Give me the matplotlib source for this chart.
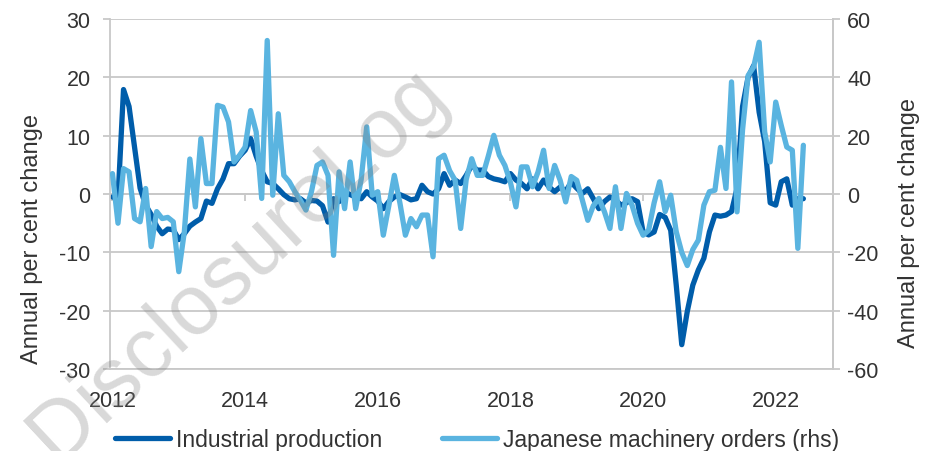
import numpy as np
import matplotlib.pyplot as plt

plt.rcParams['font.family'] = ['Liberation Sans', 'DejaVu Sans']
plt.rcParams['axes.unicode_minus'] = False

# monthly, Jan 2012 onwards
industrial_production = [
    -0.5, -0.8, 17.9, 15.0, 8.0, 1.0, -1.9, -3.5, -5.5, -6.8, -6.0, -6.1,
    -7.8, -6.8, -5.5, -4.8, -4.2, -1.2, -1.6, 0.9, 2.6, 5.2, 5.2, 6.5,
    7.5, 9.5, 6.5, 4.0, 2.1, 1.8, 0.9, -0.1, -0.8, -1.0, -0.8, -1.5,
    -1.1, -1.2, -2.0, -4.8, -0.8, -1.3, 0.4, -0.1, -0.5, -0.8, 0.4, -0.5,
    -1.2, -2.5, -1.3, -0.5, -0.1, -0.5, -1.0, -0.8, 1.5, 0.4, 0.0, 0.9,
    3.5, 1.5, 2.4, 1.8, 3.2, 4.9, 4.1, 4.1, 3.0, 2.6, 2.4, 2.1,
    3.5, 2.4, 1.8, 0.9, 2.6, 0.9, 2.4, 1.2, 0.4, 1.2, 0.5, 2.0,
    1.0, 0.1, 0.9, -0.8, -2.5, -1.3, -0.5, -1.0, -1.9, -1.5, -0.8, -1.3,
    -6.5, -7.0, -6.5, -3.5, -4.0, -6.2, -15.6, -25.8, -20.1, -15.6, -13.0, -11.0,
    -6.5, -3.6, -3.8, -3.6, -3.0, 1.0, 15.0, 20.0, 22.0, 14.0, 9.0, -1.5,
    -1.9, 2.1, 2.6, -1.9, -0.8, -0.8,
]
machinery_orders = [
    7.0, -10.0, 8.7, 7.6, -8.4, -9.5, 1.9, -18.0, -6.0, -8.4, -8.0, -9.5,
    -26.6, -13.0, 12.0, -4.4, 19.0, 3.6, 3.6, 30.4, 29.8, 24.7, 11.0, 13.3,
    16.1, 28.6, 21.3, -1.5, 52.6, -0.4, 27.5, 6.4, 4.2, 0.8, -2.1, -5.5,
    0.8, 9.8, 11.0, 6.4, -21.0, 7.6, -5.0, 11.0, -5.0, 5.0, 23.0, -0.4,
    0.8, -14.1, -4.0, 6.4, -3.0, -14.1, -8.4, -11.2, -7.2, -7.2, -21.5, 12.1,
    13.3, 8.0, 4.7, -11.8, 5.0, 12.1, 6.4, 6.4, 13.0, 20.1, 13.3, 9.8,
    4.0, -4.4, 9.3, 9.3, 2.5, 7.6, 15.0, 1.9, 9.8, 4.7, -2.7, 6.0,
    4.7, -2.0, -9.0, -4.0, -1.5, -6.0, -11.8, 2.5, -11.8, 0.2, -3.8, -10.0,
    -14.1, -12.4, -3.0, 4.2, -6.0, -0.4, -12.9, -20.0, -24.5, -19.0, -15.8, -3.8,
    0.8, 1.3, 16.0, 1.9, 38.4, -6.1, 22.0, 40.6, 43.5, 52.0, 21.3, 11.0,
    31.5, 23.5, 16.1, 15.0, -18.6, 16.7,
]
tick_years = [2012, 2014, 2016, 2018, 2020, 2022]

months = np.arange(len(industrial_production))
tick_pos = [(y - 2012) * 12 for y in tick_years]

dark = '#005DAA'
light = '#5AB4E0'
grid = '#C8C8C8'
txt = '#333333'

fig = plt.figure(figsize=(9.32, 4.52), dpi=100)
ax = fig.add_axes([0.118, 0.181, 0.776, 0.775])
ax2 = ax.twinx()

l1, = ax.plot(months, industrial_production, color=dark, lw=3.8,
              solid_joinstyle='round', solid_capstyle='round',
              label='Industrial production')
l2, = ax2.plot(months, machinery_orders, color=light, lw=3.8,
               solid_joinstyle='round', solid_capstyle='round',
               label='Japanese machinery orders (rhs)')

ax.set_xlim(-0.45, 130.4)
ax.set_ylim(-30, 30)
ax2.set_ylim(-60, 60)
ax.set_yticks(range(-30, 31, 10))
ax2.set_yticks(range(-60, 61, 20))
ax.grid(axis='y', color=grid, lw=1.3)
ax.set_axisbelow(True)

for a in (ax, ax2):
    for s in a.spines.values():
        s.set_color(grid)
        s.set_linewidth(1.3)
    a.spines['top'].set_visible(False)
ax2.spines['bottom'].set_visible(False)
ax2.spines['left'].set_visible(False)

ax.tick_params(axis='y', colors=grid, labelcolor=txt, labelsize=15.5,
               length=5, width=1.3, pad=9)
ax2.tick_params(axis='y', colors=grid, labelcolor=txt, labelsize=15.5,
                length=5, width=1.3, pad=5)
ax.set_xticks(tick_pos)
ax.set_xticklabels([str(y) for y in tick_years])
ax.tick_params(axis='x', length=0, labelsize=15.5, labelcolor=txt, pad=15)

# category axis crosses at zero
zero_ax = ax.secondary_xaxis(0.5)
zero_ax.set_alignment('bottom')
zero_ax.set_xticks(tick_pos)
zero_ax.set_xticklabels([])
zero_ax.tick_params(axis='x', direction='out', length=5, width=1.3, color=grid)
zero_ax.spines['bottom'].set_color(grid)
zero_ax.spines['bottom'].set_linewidth(1.3)

ax.set_ylabel('Annual per cent change', fontsize=17, color=txt)
ax.yaxis.set_label_coords(-0.093, 0.375)
ax2.set_ylabel('Annual per cent change', fontsize=17, color=txt)
ax2.yaxis.set_label_coords(1.09, 0.42)

fig.legend(handles=[l1, l2], loc='lower center', bbox_to_anchor=(0.512, -0.045),
           ncol=2, frameon=False, fontsize=16.5, handlelength=2.4,
           handletextpad=0.25, columnspacing=2.6, labelcolor=txt)

fig.text(0.255, 0.415, 'DisclosureLog', rotation=43, fontsize=61,
         color='#808080', alpha=0.3, ha='center', va='center',
         rotation_mode='anchor', zorder=10)

fig.savefig('out.png', dpi=100)
